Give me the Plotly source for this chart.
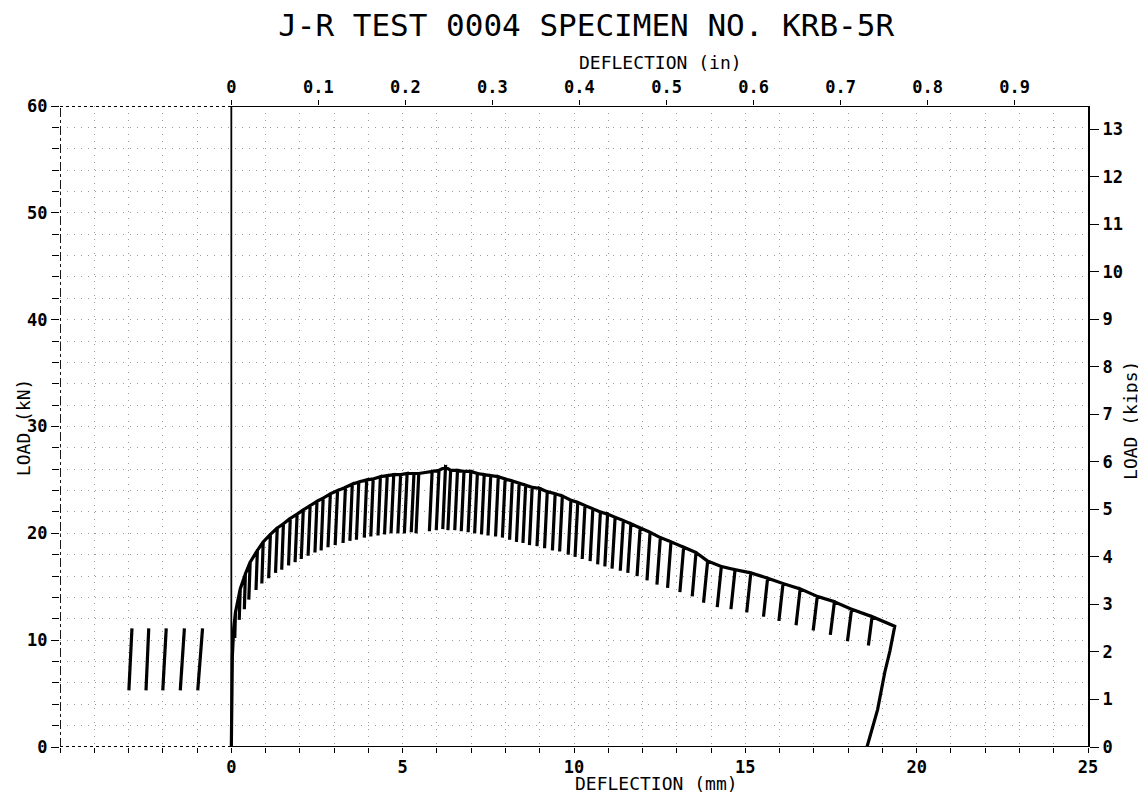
import plotly.graph_objects as go

# ---------------- data ----------------
# initial elastic loading branch (deflection mm, load kN)
load_x = [0.0, 0.01, 0.03, 0.07]
load_kn = [0.0, 5.0, 8.5, 11.1]

# tops of the partial unloadings (points on the envelope)
top_x = [0.12, 0.26, 0.41, 0.55, 0.76, 0.93, 1.14, 1.34, 1.52, 1.72, 1.92, 2.10, 2.30, 2.50, 2.68, 2.89,
         3.10, 3.33, 3.53, 3.72, 3.95, 4.14, 4.35, 4.55, 4.74, 4.94, 5.13, 5.33, 5.47,
         5.86, 6.06, 6.25,
         6.40, 6.60, 6.79, 6.99, 7.18, 7.38, 7.57, 7.79, 7.99, 8.20, 8.40, 8.59, 8.78, 9.00, 9.22, 9.45, 9.66,
         9.91, 10.11, 10.32, 10.55, 10.77, 10.98, 11.20, 11.44, 11.66, 11.93, 12.22, 12.52, 12.83,
         13.20, 13.56, 13.90, 14.30, 14.70, 15.16, 15.65, 16.10,
         16.60, 17.10, 17.60, 18.10, 18.70]
top_kn = [12.6, 14.8, 16.2, 17.3, 18.4, 19.2, 19.9, 20.5, 20.9, 21.4, 21.8, 22.2, 22.6, 23.0, 23.3, 23.7,
          24.0, 24.3, 24.6, 24.8, 25.0, 25.1, 25.3, 25.4, 25.5, 25.5, 25.6, 25.6, 25.6,
          25.8, 25.9, 26.2,
          25.9, 25.9, 25.8, 25.8, 25.6, 25.5, 25.4, 25.3, 25.1, 24.9, 24.7, 24.5, 24.3, 24.2, 23.9, 23.7, 23.5,
          23.1, 22.9, 22.6, 22.3, 22.0, 21.8, 21.5, 21.2, 20.9, 20.5, 20.1, 19.6, 19.2,
          18.7, 18.2, 17.4, 16.9, 16.6, 16.3, 15.8, 15.3,
          14.8, 14.1, 13.6, 12.9, 12.2]
# bottoms of the partial unloadings
bot_x = [0.10, 0.23, 0.38, 0.51, 0.72, 0.89, 1.09, 1.29, 1.47, 1.67, 1.86, 2.04, 2.24, 2.44, 2.62, 2.82,
         3.03, 3.26, 3.46, 3.65, 3.88, 4.07, 4.28, 4.47, 4.66, 4.86, 5.05, 5.25, 5.39,
         5.78, 5.98, 6.17,
         6.32, 6.52, 6.71, 6.91, 7.10, 7.30, 7.49, 7.71, 7.91, 8.12, 8.32, 8.51, 8.70, 8.92, 9.14, 9.37, 9.58,
         9.83, 10.03, 10.24, 10.47, 10.69, 10.90, 11.11, 11.35, 11.57, 11.84, 12.13, 12.42, 12.73,
         13.09, 13.45, 13.78, 14.18, 14.58, 15.04, 15.53, 15.98,
         16.48, 16.98, 17.48, 17.98, 18.59]
bot_kn = [10.2, 11.9, 12.9, 13.8, 14.7, 15.3, 15.8, 16.3, 16.6, 17.0, 17.3, 17.6, 17.9, 18.2, 18.4, 18.7,
          18.9, 19.1, 19.3, 19.4, 19.6, 19.7, 19.8, 19.9, 20.0, 20.0, 20.0, 20.1, 20.0,
          20.2, 20.3, 20.4,
          20.3, 20.3, 20.2, 20.1, 20.0, 19.9, 19.8, 19.7, 19.6, 19.4, 19.2, 19.1, 18.9, 18.8, 18.6, 18.4, 18.3,
          18.0, 17.8, 17.6, 17.4, 17.1, 16.9, 16.7, 16.5, 16.3, 16.0, 15.6, 15.2, 14.9,
          14.5, 14.1, 13.5, 13.1, 12.9, 12.6, 12.2, 11.8,
          11.4, 10.9, 10.5, 9.9, 9.5]

# last point and final unloading
end_x = [19.36, 19.22, 19.07, 18.86, 18.55]
end_kn = [11.3, 9.0, 7.0, 3.5, 0.0]

# calibration unloading lines left of the origin
cal_bot_x = [-2.99, -2.49, -2.00, -1.49, -0.98]
cal_top_x = [-2.90, -2.41, -1.90, -1.37, -0.84]
cal_bot_kn = [5.3, 5.3, 5.3, 5.3, 5.3]
cal_top_kn = [11.1, 11.1, 11.1, 11.1, 11.1]

x_ticks_mm = [0, 5, 10, 15, 20, 25]
y_ticks_kn = [0, 10, 20, 30, 40, 50, 60]
top_ticks_in = [0, 0.1, 0.2, 0.3, 0.4, 0.5, 0.6, 0.7, 0.8, 0.9]
right_ticks_kips = list(range(0, 14))

MM_PER_IN = 25.4
KN_PER_KIP = 4.4482
X_RANGE = [-5, 25]
Y_RANGE = [0, 60]

# ---------------- build the recorded trace ----------------
px, py = list(load_x), list(load_kn)
for tx, tk, bx, bk in zip(top_x, top_kn, bot_x, bot_kn):
    px += [tx, bx, tx]
    py += [tk, bk, tk]
px += end_x
py += end_kn

cx, cy = [], []
for bx, tx, bk, tk in zip(cal_bot_x, cal_top_x, cal_bot_kn, cal_top_kn):
    cx += [bx, tx, None]
    cy += [bk, tk, None]

fig = go.Figure()
fig.add_trace(go.Scatter(x=px, y=py, mode="lines",
                         line=dict(color="black", width=3.2), showlegend=False, hoverinfo="skip"))
fig.add_trace(go.Scatter(x=cx, y=cy, mode="lines",
                         line=dict(color="black", width=3.2), showlegend=False, hoverinfo="skip"))
# helper traces to activate the secondary (top / right) axes
fig.add_trace(go.Scatter(x=[0], y=[0], xaxis="x2", yaxis="y", mode="markers",
                         marker=dict(opacity=0), showlegend=False, hoverinfo="skip"))
fig.add_trace(go.Scatter(x=[0], y=[0], xaxis="x", yaxis="y2", mode="markers",
                         marker=dict(opacity=0), showlegend=False, hoverinfo="skip"))

tick_font = dict(family="DejaVu Sans Mono", size=17, color="black", weight="bold")
grid_style = dict(showgrid=True, gridcolor="#9a9a9a", gridwidth=1, griddash="1px,6px")

# the page body has an 8px margin: keep the figure inside the window (no scrollbars)
fig.update_layout(
    width=1138, height=788,
    margin=dict(l=52, r=58, t=98, b=49),
    paper_bgcolor="white", plot_bgcolor="white",
    title=dict(text="J-R TEST 0004 SPECIMEN NO. KRB-5R", x=0.508, xanchor="center",
               y=0.978, yanchor="middle", yref="container",
               font=dict(family="DejaVu Sans Mono", size=31, color="black")),
    xaxis=dict(range=X_RANGE, tickmode="array", tickvals=x_ticks_mm,
               ticktext=[str(v) for v in x_ticks_mm], ticks="outside", ticklen=5,
               tickcolor="black", tickfont=tick_font, showline=False, zeroline=False,
               minor=dict(dtick=1, tick0=0, ticks="outside", ticklen=5, tickcolor="black",
                          **grid_style),
               **grid_style),
    yaxis=dict(range=Y_RANGE, tickmode="array", tickvals=y_ticks_kn,
               ticktext=[str(v) for v in y_ticks_kn], ticks="outside", ticklen=8,
               tickcolor="black", tickfont=tick_font, showline=False, zeroline=False,
               minor=dict(dtick=2, tick0=0, ticks="outside", ticklen=7, tickcolor="black",
                          **grid_style),
               **grid_style),
    xaxis2=dict(overlaying="x", side="top", range=[X_RANGE[0] / MM_PER_IN, X_RANGE[1] / MM_PER_IN],
                tickmode="array", tickvals=top_ticks_in, ticktext=[str(v) for v in top_ticks_in],
                ticks="outside", ticklen=5, tickcolor="black", tickfont=tick_font,
                showgrid=False, zeroline=False, showline=False),
    yaxis2=dict(overlaying="y", side="right", range=[Y_RANGE[0] / KN_PER_KIP, Y_RANGE[1] / KN_PER_KIP],
                tickmode="array", tickvals=right_ticks_kips, ticktext=[str(v) for v in right_ticks_kips],
                ticks="outside", ticklen=9, tickcolor="black", tickfont=tick_font,
                showgrid=False, zeroline=False, showline=True, linecolor="black", linewidth=2),
)

# frame lines (axes of the plotter sheet)
frame = [
    dict(x0=0, x1=25, y0=0, y1=0, dash="solid"),
    dict(x0=-5, x1=0, y0=0, y1=0, dash="dot"),
    dict(x0=0, x1=25, y0=60, y1=60, dash="solid"),
    dict(x0=-5, x1=0, y0=60, y1=60, dash="dot"),
    dict(x0=0, x1=0, y0=0, y1=60, dash="solid"),
    dict(x0=-5, x1=-5, y0=0, y1=60, dash="dashdot"),
]
for f in frame:
    fig.add_shape(type="line", xref="x", yref="y", x0=f["x0"], x1=f["x1"], y0=f["y0"], y1=f["y1"],
                  line=dict(color="black", width=1.8, dash=f["dash"]), layer="above")

label_font = dict(family="DejaVu Sans Mono", size=18, color="black")
fig.add_annotation(text="DEFLECTION (mm)", xref="paper", yref="paper", x=0.5807, y=-0.0575,
                   showarrow=False, font=label_font, xanchor="center", yanchor="middle")
fig.add_annotation(text="DEFLECTION (in)", xref="paper", yref="paper", x=0.5837, y=1.0686,
                   showarrow=False, font=label_font, xanchor="center", yanchor="middle")
fig.add_annotation(text="LOAD (kN)", xref="paper", yref="paper", x=-0.036, y=0.499, textangle=-90,
                   showarrow=False, font=label_font, xanchor="center", yanchor="middle")
fig.add_annotation(text="LOAD (kips)", xref="paper", yref="paper", x=1.042, y=0.509, textangle=-90,
                   showarrow=False, font=label_font, xanchor="center", yanchor="middle")

fig.write_html("out.html")
